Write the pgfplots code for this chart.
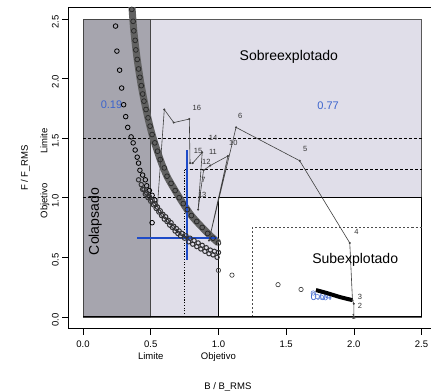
\documentclass[border=0pt]{standalone}
\usepackage{pgfplots}
\pgfplotsset{compat=1.18}
\usepackage{fontspec}
\setmainfont{Liberation Sans}
\definecolor{darkreg}{RGB}{166,165,174}
\definecolor{lightreg}{RGB}{224,222,233}
\definecolor{bluel}{RGB}{30,75,200}
\definecolor{bluet}{RGB}{60,100,205}
\definecolor{bandc}{RGB}{50,50,52}
\begin{document}
\begin{tikzpicture}
\useasboundingbox (-68pt,-62pt) rectangle (362pt,328pt);
\begin{axis}[
  scale only axis, width=362pt, height=321pt,
  xmin=-0.11, xmax=2.57, ymin=-0.1, ymax=2.6,
  axis x line*=box, axis y line*=left,
  xtick pos=left, ytick pos=left,
  tick align=outside, major tick length=6pt,
  every tick/.style={black, line width=0.5pt},
  axis line style={black, line width=0.6pt},
  xtick={0,0.5,1,1.5,2,2.5},
  ytick={0,0.5,1,1.5,2,2.5},
  xticklabels={0.0,{0.5\\Limite},{1.0\\Objetivo},1.5,2.0,2.5},
  yticklabels={0.0,0.5,{Objetivo\\1.0},{Limite\\1.5},2.0,2.5},
  xticklabel style={align=center, font=\fontsize{9.5}{11}\selectfont, anchor=north, yshift=-3pt},
  yticklabel style={rotate=90, anchor=south, align=center, font=\fontsize{9.5}{11}\selectfont, xshift=-3pt},
  xlabel={B / B\_RMS}, ylabel={F / F\_RMS},
  every axis x label/.style={at={(axis description cs:0.44,-0.18)}, anchor=center, font=\fontsize{9.5}{11}\selectfont},
  every axis y label/.style={at={(axis description cs:-0.118,0.5)}, rotate=90, anchor=center, font=\fontsize{9.5}{11}\selectfont},
]
% regions
\addplot[fill=lightreg, draw=gray!70!black, line width=0.6pt] coordinates {(0,0) (2.5,0) (2.5,2.5) (0,2.5)} -- cycle;
\addplot[fill=darkreg, draw=gray!55!black, line width=0.5pt] coordinates {(0,0) (0.5,0) (0.5,2.5) (0,2.5)} -- cycle;
\addplot[fill=white, draw=black, line width=1.3pt] coordinates {(1,0) (1,1) (2.5,1) (2.5,0)};
% reference lines
\addplot[black, line width=0.6pt, dash pattern=on 3pt off 2pt] coordinates {(0,1.5) (2.5,1.5)};
\addplot[black, line width=0.6pt, dash pattern=on 3pt off 2pt] coordinates {(0.75,1.24) (2.5,1.24)};
\addplot[black, line width=0.6pt, dash pattern=on 3pt off 2pt] coordinates {(0,1.0) (1.0,1.0)};
\addplot[black, line width=0.5pt, dash pattern=on 1.2pt off 1.5pt] coordinates {(0.75,0) (0.75,1.24)};
\addplot[gray!60!black, line width=0.6pt, dash pattern=on 2pt off 2pt] coordinates {(1.25,0) (1.25,0.75) (2.5,0.75)};
\addplot[black, line width=1.3pt] coordinates {(0,0) (2.5,0)};
% sparse circles
\addplot[only marks, mark=o, mark size=2.3pt, black, mark options={line width=0.8pt}] coordinates {
(0.24,2.44) (0.25,2.23) (0.27,2.07) (0.285,1.92) (0.30,1.78) (0.315,1.68) (0.33,1.59)
(0.355,1.51) (0.37,1.46) (0.385,1.40) (0.40,1.34) (0.41,1.29) (0.42,1.23) (0.44,1.19)
(0.46,1.15) (0.47,1.10) (0.49,1.06) (0.51,1.02) (0.53,0.98) (0.51,0.79)};
% lower band (double row)
\addplot[only marks, mark=o, mark size=2.2pt, bandc, mark options={line width=1pt}] coordinates {
(0.41,1.15) (0.43,1.11) (0.45,1.07) (0.47,1.04) (0.49,1.01) (0.51,0.98) (0.53,0.95) (0.55,0.92)
(0.57,0.89) (0.59,0.86) (0.61,0.84) (0.63,0.81) (0.65,0.79) (0.67,0.76) (0.69,0.74) (0.71,0.72)
(0.73,0.70) (0.76,0.68) (0.79,0.66) (0.82,0.64) (0.85,0.62) (0.88,0.60) (0.91,0.58) (0.94,0.56) (0.97,0.55) (1.00,0.54)
(0.44,1.07) (0.46,1.03) (0.48,1.00) (0.50,0.97) (0.52,0.94) (0.54,0.91) (0.56,0.88) (0.58,0.85)
(0.60,0.82) (0.62,0.80) (0.64,0.77) (0.66,0.75) (0.68,0.72) (0.70,0.70) (0.72,0.68) (0.75,0.66)
(0.78,0.63) (0.81,0.61) (0.84,0.59) (0.87,0.57) (0.90,0.55) (0.93,0.53) (0.96,0.52) (0.99,0.50)};
% thick upper band
\addplot[black!62, line width=7pt, smooth] coordinates {
(0.36,2.62) (0.375,2.40) (0.40,2.16) (0.43,1.94) (0.465,1.74) (0.51,1.53) (0.57,1.32)
(0.62,1.18) (0.68,1.06) (0.74,0.95) (0.80,0.85) (0.88,0.75) (0.96,0.66) (1.00,0.62)};
\addplot[only marks, mark=o, mark size=2.4pt, black!85, mark options={line width=0.7pt}] coordinates {
(0.36,2.58) (0.37,2.48) (0.375,2.40) (0.385,2.32) (0.39,2.24) (0.40,2.16) (0.41,2.08) (0.42,2.01)
(0.43,1.94) (0.44,1.87) (0.45,1.81) (0.465,1.74) (0.48,1.67) (0.495,1.60) (0.51,1.53) (0.53,1.46)
(0.55,1.39) (0.57,1.32) (0.60,1.25) (0.62,1.18) (0.65,1.12) (0.68,1.06) (0.71,1.00) (0.74,0.95)
(0.77,0.90) (0.80,0.85) (0.84,0.80) (0.88,0.75) (0.92,0.70) (0.96,0.66) (1.00,0.62)};
% lower right circles
\addplot[only marks, mark=o, mark size=2.2pt, black!80, mark options={line width=0.6pt}] coordinates {
(1.00,0.39) (1.10,0.35) (1.44,0.27) (1.61,0.23)};
\node[font=\fontsize{11}{12}\selectfont, text=bluet] at (axis cs:1.76,0.165) {0.04};
\addplot[only marks, mark=o, mark size=2.2pt, bluet!80, mark options={line width=0.6pt}] coordinates {
(1.70,0.20) (1.73,0.17) (1.76,0.165) (1.79,0.16)};
\addplot[black, line width=4pt] coordinates {(1.72,0.225) (1.80,0.20) (1.90,0.165) (1.99,0.14)};
% blue cross
\addplot[bluel, line width=2pt] coordinates {(0.765,0.48) (0.765,1.40)};
\addplot[bluel, line width=2pt] coordinates {(0.40,0.66) (0.99,0.66)};
% trajectory
\addplot[black!75, line width=0.6pt, mark=*, mark size=0.7pt] coordinates {
(2.00,0.00) (2.00,0.11) (1.99,0.14) (1.97,0.62) (1.60,1.31) (1.13,1.59) (0.93,0.64)
(1.07,1.35) (0.94,1.27) (0.89,1.23) (0.85,0.90) (0.88,1.38) (0.81,1.29) (0.79,1.29)
(0.785,1.66) (0.67,1.63) (0.60,1.74) (0.55,0.94)};
% labels
\begin{scope}[font=\fontsize{7.5}{8}\selectfont, text=black!80]
\node at (axis cs:2.00,0.00) {1};
\node at (axis cs:2.045,0.09) {2};
\node at (axis cs:2.045,0.17) {3};
\node at (axis cs:2.02,0.71) {4};
\node at (axis cs:1.64,1.41) {5};
\node at (axis cs:1.16,1.69) {6};
\node at (axis cs:1.11,1.46) {10};
\node at (axis cs:0.96,1.50) {14};
\node at (axis cs:0.85,1.39) {15};
\node at (axis cs:0.96,1.38) {11};
\node at (axis cs:0.91,1.30) {12};
\node at (axis cs:0.89,1.15) {7};
\node at (axis cs:0.88,1.02) {13};
\node at (axis cs:0.84,1.75) {16};
\end{scope}
\node[font=\fontsize{14}{16}\selectfont] at (axis cs:1.52,2.18) {Sobreexplotado};
\node[font=\fontsize{14}{16}\selectfont] at (axis cs:2.01,0.48) {Subexplotado};
\node[font=\fontsize{14}{16}\selectfont, rotate=90] at (axis cs:0.09,0.80) {Colapsado};
\node[font=\fontsize{11}{12}\selectfont, text=bluet] at (axis cs:0.21,1.78) {0.19};
\node[font=\fontsize{11}{12}\selectfont, text=bluet] at (axis cs:1.81,1.77) {0.77};
\end{axis}
\end{tikzpicture}
\end{document}
